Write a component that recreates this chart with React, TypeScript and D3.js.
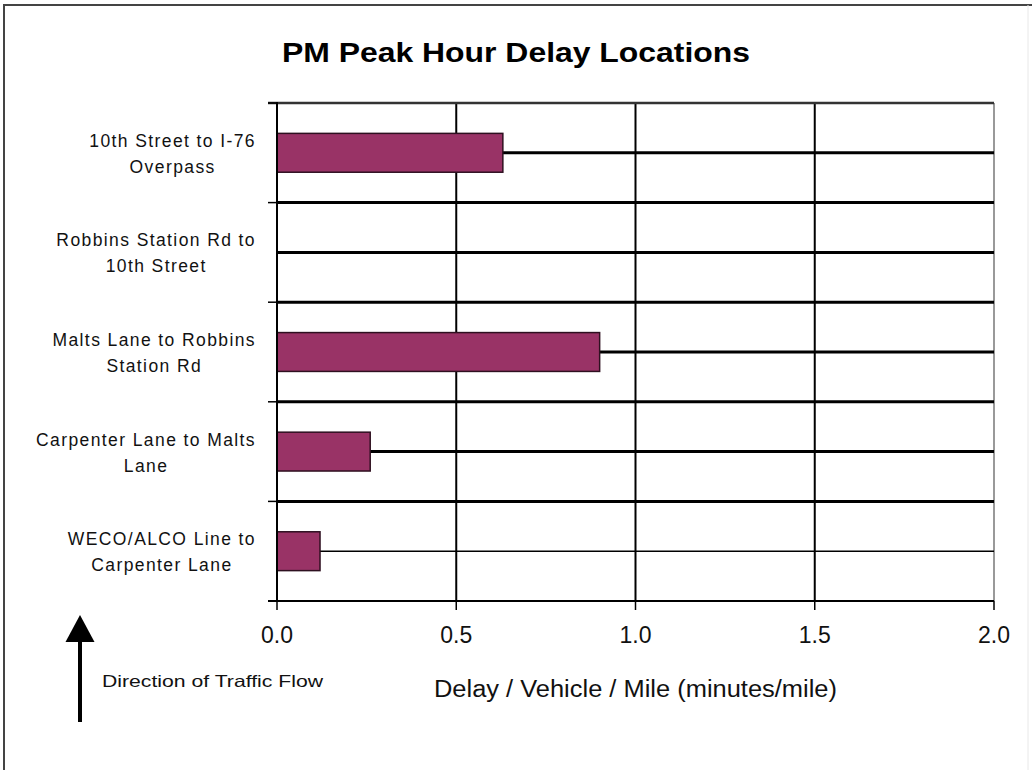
import React, { useEffect, useRef } from "react";
import * as d3 from "d3";

// ---- data ----
const categories = [
  "10th Street to I-76|Overpass",
  "Robbins Station Rd to|10th Street",
  "Malts Lane to Robbins|Station Rd",
  "Carpenter Lane to Malts|Lane",
  "WECO/ALCO Line to|Carpenter Lane",
];
const delayValues = [0.63, 0, 0.9, 0.26, 0.12];
const xTicks = [0, 0.5, 1.0, 1.5, 2.0];
const xTickLabels = ["0.0", "0.5", "1.0", "1.5", "2.0"];
const titleText = "PM Peak Hour Delay Locations";
const xAxisTitle = "Delay / Vehicle / Mile (minutes/mile)";
const directionText = "Direction of Traffic Flow";

// ---- style ----
const W = 1032;
const H = 770;
const FONT = "'Liberation Sans', Arial, sans-serif";
const BAR_FILL = "#993366";
const BAR_STROKE = "#2e1020";
const thickCenterLine = [true, true, true, true, false];

export default function App() {
  const ref = useRef<SVGSVGElement | null>(null);

  useEffect(() => {
    const svg = d3.select(ref.current);
    svg.selectAll("*").remove();

    const plot = { left: 277, right: 994, top: 103, bottom: 601 };
    const x = d3.scaleLinear().domain([0, 2]).range([plot.left, plot.right]);
    const y = d3.scaleBand<string>().domain(categories).range([plot.top, plot.bottom]);
    const bw = y.bandwidth();
    const barH = bw * 0.39;

    // background
    svg.append("rect").attr("x", 0).attr("y", 0).attr("width", W).attr("height", H).attr("fill", "#fff");

    // outer frame
    svg.append("line").attr("x1", 4).attr("x2", 4).attr("y1", 4).attr("y2", H)
      .attr("stroke", "#444").attr("stroke-width", 2);
    svg.append("line").attr("x1", 3).attr("x2", W).attr("y1", 5).attr("y2", 5)
      .attr("stroke", "#444").attr("stroke-width", 2);
    svg.append("line").attr("x1", 1028).attr("x2", 1028).attr("y1", 5).attr("y2", H)
      .attr("stroke", "#e8e8e8").attr("stroke-width", 1);

    // title
    svg.append("text").attr("x", W / 2).attr("y", 62).attr("text-anchor", "middle")
      .attr("font-family", FONT).attr("font-size", 28).attr("font-weight", "bold")
      .attr("textLength", 468).attr("lengthAdjust", "spacingAndGlyphs")
      .text(titleText);

    // vertical gridlines
    svg.selectAll(".vgrid").data(xTicks.filter((t) => t > 0 && t < 2)).enter().append("line")
      .attr("x1", (d) => x(d)).attr("x2", (d) => x(d))
      .attr("y1", plot.top).attr("y2", plot.bottom)
      .attr("stroke", "#000").attr("stroke-width", 2);

    // right border of plot area
    svg.append("line").attr("x1", x(2)).attr("x2", x(2)).attr("y1", plot.top).attr("y2", plot.bottom)
      .attr("stroke", "#999").attr("stroke-width", 2);

    // horizontal boundary lines
    svg.selectAll(".hb").data(categories.slice(0, -1)).enter().append("line")
      .attr("x1", plot.left).attr("x2", plot.right)
      .attr("y1", (d) => (y(d) as number) + bw).attr("y2", (d) => (y(d) as number) + bw)
      .attr("stroke", "#000").attr("stroke-width", 3);

    // horizontal center lines
    svg.selectAll(".hc").data(categories).enter().append("line")
      .attr("x1", plot.left).attr("x2", plot.right)
      .attr("y1", (d) => (y(d) as number) + bw / 2).attr("y2", (d) => (y(d) as number) + bw / 2)
      .attr("stroke", "#000").attr("stroke-width", (_d, i) => (thickCenterLine[i] ? 3 : 1.5));

    // top border
    svg.append("line").attr("x1", plot.left - 9).attr("x2", plot.right).attr("y1", plot.top).attr("y2", plot.top)
      .attr("stroke", "#333").attr("stroke-width", 2.5);

    // bars
    svg.selectAll(".bar").data(categories).enter().append("rect")
      .attr("x", x(0))
      .attr("y", (d) => (y(d) as number) + bw / 2 - barH / 2)
      .attr("width", (_d, i) => Math.max(0, x(delayValues[i]) - x(0)))
      .attr("height", barH)
      .attr("fill", BAR_FILL)
      .attr("stroke", BAR_STROKE)
      .attr("stroke-width", 1.5)
      .attr("display", (_d, i) => (delayValues[i] > 0 ? null : "none"));

    // left axis
    svg.append("line").attr("x1", plot.left).attr("x2", plot.left).attr("y1", plot.top - 1).attr("y2", plot.bottom + 1)
      .attr("stroke", "#000").attr("stroke-width", 2);
    const yTickPos = categories.map((c) => y(c) as number).concat([plot.bottom]);
    svg.selectAll(".ytick").data(yTickPos).enter().append("line")
      .attr("x1", plot.left - 9).attr("x2", plot.left)
      .attr("y1", (d) => d).attr("y2", (d) => d)
      .attr("stroke", "#000").attr("stroke-width", 1.5);

    // bottom axis
    svg.append("line").attr("x1", plot.left - 9).attr("x2", plot.right).attr("y1", plot.bottom).attr("y2", plot.bottom)
      .attr("stroke", "#000").attr("stroke-width", 2);
    svg.selectAll(".xtick").data(xTicks).enter().append("line")
      .attr("x1", (d) => x(d)).attr("x2", (d) => x(d))
      .attr("y1", plot.bottom).attr("y2", plot.bottom + 9)
      .attr("stroke", "#000").attr("stroke-width", 1.5);
    svg.selectAll(".xlab").data(xTicks).enter().append("text")
      .attr("x", (d) => x(d)).attr("y", plot.bottom + 42)
      .attr("text-anchor", "middle").attr("font-family", FONT).attr("font-size", 23)
      .attr("fill", "#111")
      .text((_d, i) => xTickLabels[i]);

    // x axis title
    svg.append("text").attr("x", (plot.left + plot.right) / 2).attr("y", 697)
      .attr("text-anchor", "middle").attr("font-family", FONT).attr("font-size", 23)
      .attr("fill", "#111")
      .attr("textLength", 403).attr("lengthAdjust", "spacingAndGlyphs")
      .text(xAxisTitle);

    // category labels: centered block, right edge aligned
    const labelRight = plot.left - 21;
    categories.forEach((c) => {
      const lines = c.split("|");
      const cy = (y(c) as number) + bw / 2;
      const g = svg.append("g");
      const texts = lines.map((ln, j) =>
        g.append("text")
          .attr("y", cy + (j === 0 ? -6 : 20))
          .attr("text-anchor", "middle")
          .attr("font-family", FONT).attr("font-size", 17.5)
          .attr("letter-spacing", 1.4)
          .attr("fill", "#111")
          .text(ln)
      );
      const maxW = d3.max(texts, (t) => (t.node() as SVGTextElement).getComputedTextLength()) || 0;
      texts.forEach((t) => t.attr("x", labelRight - maxW / 2));
    });

    // direction arrow
    const arrowX = 80;
    svg.append("line").attr("x1", arrowX).attr("x2", arrowX).attr("y1", 640).attr("y2", 722)
      .attr("stroke", "#000").attr("stroke-width", 4);
    svg.append("path")
      .attr("d", d3.line()([[arrowX, 615], [arrowX + 14.5, 642], [arrowX - 14.5, 642]]) + "Z")
      .attr("fill", "#000");
    svg.append("text").attr("x", 102).attr("y", 687)
      .attr("font-family", FONT).attr("font-size", 16.5)
      .attr("fill", "#111")
      .attr("textLength", 221).attr("lengthAdjust", "spacingAndGlyphs")
      .text(directionText);
  }, []);

  return (
    <svg
      ref={ref}
      width={W}
      height={H}
      style={{ position: "absolute", left: 0, top: 0, display: "block", background: "#fff" }}
    />
  );
}
